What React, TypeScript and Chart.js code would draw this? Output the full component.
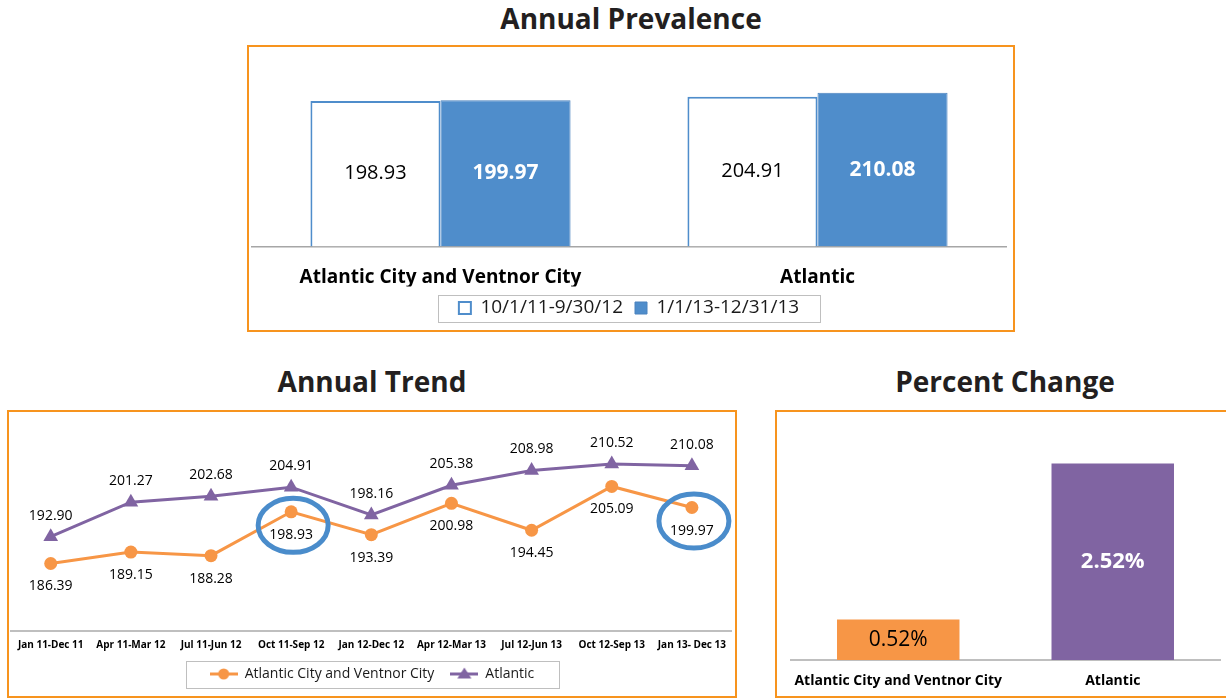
import React, { useEffect, useRef } from "react";
import { Chart, registerables } from "chart.js";

Chart.register(...registerables);

const FONT = "'Open Sans', 'DejaVu Sans', sans-serif";
Chart.defaults.font.family = FONT;
Chart.defaults.color = "#1a1a1a";

// ---------- data ----------
const prevalenceCategories = ["Atlantic City and Ventnor City", "Atlantic"];
const prevalencePeriods = ["10/1/11-9/30/12", "1/1/13-12/31/13"];
const prevalenceFirst = [198.93, 204.91];
const prevalenceSecond = [199.97, 210.08];

const trendPeriods = [
  "Jan 11-Dec 11",
  "Apr 11-Mar 12",
  "Jul 11-Jun 12",
  "Oct 11-Sep 12",
  "Jan 12-Dec 12",
  "Apr 12-Mar 13",
  "Jul 12-Jun 13",
  "Oct 12-Sep 13",
  "Jan 13- Dec 13",
];
const trendSeriesNames = ["Atlantic City and Ventnor City", "Atlantic"];
const trendCityValues = [186.39, 189.15, 188.28, 198.93, 193.39, 200.98, 194.45, 205.09, 199.97];
const trendCountyValues = [192.9, 201.27, 202.68, 204.91, 198.16, 205.38, 208.98, 210.52, 210.08];
const highlightedPeriods = ["Oct 11-Sep 12", "Jan 13- Dec 13"];

const changeCategories = ["Atlantic City and Ventnor City", "Atlantic"];
const changeValues = [0.52, 2.52];

// ---------- colours ----------
const BLUE = "#4F8DCB";
const BLUE_EDGE = "#4A82BE";
const ORANGE = "#F79646";
const PURPLE = "#8064A2";
const FRAME = "#F7941E";
const RING = "#4A8CCB";

type LabelSpec = {
  font: string;
  color: string;
  mode: "center" | "offset";
  offset?: number;
  fmt: (v: number) => string;
};

function valueLabels(specs: LabelSpec[]) {
  return {
    id: "valueLabels",
    afterDatasetsDraw(chart: any) {
      const ctx = chart.ctx;
      chart.data.datasets.forEach((ds: any, di: number) => {
        const spec = specs[di];
        if (!spec) return;
        const meta = chart.getDatasetMeta(di);
        meta.data.forEach((el: any, i: number) => {
          const v = ds.data[i] as number;
          const y = spec.mode === "center" ? (el.y + el.base) / 2 : el.y + (spec.offset || 0);
          ctx.save();
          ctx.font = spec.font;
          ctx.fillStyle = spec.color;
          ctx.textAlign = "center";
          ctx.textBaseline = "middle";
          ctx.fillText(spec.fmt(v), el.x, y);
          ctx.restore();
        });
      });
    },
  };
}

function legendFrame(padX: number, boxH: number) {
  return {
    id: "legendFrame",
    afterDraw(chart: any) {
      const lg = chart.legend;
      const boxes = lg && lg.legendHitBoxes;
      if (!boxes || !boxes.length) return;
      const left = Math.min(...boxes.map((b: any) => b.left)) - padX;
      const right = Math.max(...boxes.map((b: any) => b.left + b.width)) + padX;
      const cy = boxes[0].top + boxes[0].height / 2;
      const ctx = chart.ctx;
      ctx.save();
      ctx.strokeStyle = "#BFBFBF";
      ctx.lineWidth = 1;
      ctx.strokeRect(Math.round(left) + 0.5, Math.round(cy - boxH / 2) + 0.5, Math.round(right - left), boxH);
      ctx.restore();
    },
  };
}

const highlightRings = {
  id: "highlightRings",
  afterDatasetsDraw(chart: any) {
    const meta = chart.getDatasetMeta(0);
    const ctx = chart.ctx;
    highlightedPeriods.forEach((p) => {
      const i = trendPeriods.indexOf(p);
      const el = meta.data[i];
      if (!el) return;
      ctx.save();
      ctx.beginPath();
      ctx.ellipse(el.x + 2, el.y + 13.5, 35, 27, 0, 0, Math.PI * 2);
      ctx.lineWidth = 5;
      ctx.strokeStyle = RING;
      ctx.stroke();
      ctx.restore();
    });
  },
};

function makeIcon(color: string, shape: "circle" | "triangle") {
  const c = document.createElement("canvas");
  c.width = 28;
  c.height = 16;
  const g = c.getContext("2d")!;
  g.strokeStyle = color;
  g.lineWidth = 3;
  g.beginPath();
  g.moveTo(0, 8);
  g.lineTo(28, 8);
  g.stroke();
  g.fillStyle = color;
  g.beginPath();
  if (shape === "circle") {
    g.arc(14, 8, 5.5, 0, Math.PI * 2);
  } else {
    g.moveTo(14, 1.5);
    g.lineTo(21, 12.5);
    g.lineTo(7, 12.5);
    g.closePath();
  }
  g.fill();
  return c;
}

function prevalenceConfig(): any {
  return {
    type: "bar",
    data: {
      labels: prevalenceCategories,
      datasets: [
        {
          label: prevalencePeriods[0],
          data: prevalenceFirst,
          backgroundColor: "#FFFFFF",
          borderColor: BLUE,
          borderWidth: 2,
        },
        {
          label: prevalencePeriods[1],
          data: prevalenceSecond,
          backgroundColor: BLUE,
          borderColor: BLUE_EDGE,
          borderWidth: 1,
        },
      ],
    },
    options: {
      responsive: false,
      animation: false,
      events: [],
      layout: { padding: { top: 12, left: 2, right: 6, bottom: 1.5 } },
      datasets: { bar: { categoryPercentage: 0.69, barPercentage: 1 } },
      scales: {
        x: {
          grid: { display: false, drawTicks: false },
          border: { display: true, color: "#A6A6A6", width: 1.5 },
          ticks: { padding: 21, color: "#000", font: { size: 19, weight: "bold", family: FONT, lineHeight: 1.1 } },
          afterFit: (scale: any) => {
            scale.height = 40;
          },
        },
        y: { display: false, min: 0, max: 255 },
      },
      plugins: {
        tooltip: { enabled: false },
        legend: {
          position: "bottom",
          labels: {
            boxWidth: 12,
            boxHeight: 12,
            padding: 12,
            color: "#1a1a1a",
            font: { size: 19, family: FONT },
          },
        },
      },
    },
    plugins: [
      valueLabels([
        { font: `20px ${FONT}`, color: "#000", mode: "center", fmt: (v) => v.toFixed(2) },
        { font: `bold 21px ${FONT}`, color: "#FFFFFF", mode: "center", fmt: (v) => v.toFixed(2) },
      ]),
      legendFrame(21, 27),
    ],
  };
}

function trendConfig(): any {
  const icons = [makeIcon(ORANGE, "circle"), makeIcon(PURPLE, "triangle")];
  return {
    type: "line",
    data: {
      labels: trendPeriods,
      datasets: [
        {
          label: trendSeriesNames[0],
          data: trendCityValues,
          borderColor: ORANGE,
          backgroundColor: ORANGE,
          borderWidth: 3,
          pointStyle: "circle",
          pointRadius: 6.5,
          pointBorderWidth: 0,
          tension: 0,
        },
        {
          label: trendSeriesNames[1],
          data: trendCountyValues,
          borderColor: PURPLE,
          backgroundColor: PURPLE,
          borderWidth: 3,
          pointStyle: "triangle",
          pointRadius: 8.5,
          pointBorderWidth: 0,
          tension: 0,
        },
      ],
    },
    options: {
      responsive: false,
      animation: false,
      events: [],
      layout: { autoPadding: false, padding: { top: 12, left: 0, right: 0, bottom: 4 } },
      scales: {
        x: {
          offset: true,
          grid: { display: false, drawTicks: false },
          border: { display: true, color: "#BFBFBF", width: 2 },
          ticks: { padding: 8, color: "#000", maxRotation: 0, autoSkip: false, font: { size: 10, weight: "bold", family: FONT } },
          afterFit: (scale: any) => {
            scale.height = 20;
          },
        },
        y: { display: false, min: 170, max: 220 },
      },
      plugins: {
        tooltip: { enabled: false },
        legend: {
          position: "bottom",
          labels: {
            usePointStyle: true,
            pointStyleWidth: 28,
            boxHeight: 14,
            padding: 16,
            color: "#1a1a1a",
            font: { size: 14, family: FONT },
            generateLabels: (chart: any) => {
              const items = Chart.defaults.plugins.legend.labels.generateLabels(chart);
              items.forEach((it: any, i: number) => {
                it.pointStyle = icons[i];
              });
              return items;
            },
          },
        },
      },
    },
    plugins: [
      valueLabels([
        { font: `14px ${FONT}`, color: "#000", mode: "offset", offset: 23, fmt: (v) => v.toFixed(2) },
        { font: `14px ${FONT}`, color: "#000", mode: "offset", offset: -21, fmt: (v) => v.toFixed(2) },
      ]),
      highlightRings,
      legendFrame(24, 27),
    ],
  };
}

function changeConfig(): any {
  return {
    type: "bar",
    data: {
      labels: changeCategories,
      datasets: [
        {
          label: "Percent Change",
          data: changeValues,
          backgroundColor: [ORANGE, PURPLE],
          borderWidth: 0,
        },
      ],
    },
    options: {
      responsive: false,
      animation: false,
      events: [],
      layout: { padding: { top: 13, left: 13, right: 6, bottom: 6 } },
      datasets: { bar: { categoryPercentage: 0.571, barPercentage: 1 } },
      scales: {
        x: {
          grid: { display: false, drawTicks: false },
          border: { display: true, color: "#BFBFBF", width: 2 },
          ticks: { padding: 13, color: "#000", font: { size: 14, weight: "bold", family: FONT } },
          afterFit: (scale: any) => {
            scale.height = 29;
          },
        },
        y: { display: false, min: 0, max: 3 },
      },
      plugins: { tooltip: { enabled: false }, legend: { display: false } },
    },
    plugins: [
      {
        id: "pctLabels",
        afterDatasetsDraw(chart: any) {
          const ctx = chart.ctx;
          const meta = chart.getDatasetMeta(0);
          meta.data.forEach((el: any, i: number) => {
            const v = changeValues[i];
            const big = i === 1;
            ctx.save();
            ctx.font = big ? `bold 22px ${FONT}` : `21px ${FONT}`;
            ctx.fillStyle = big ? "#FFFFFF" : "#000";
            ctx.textAlign = "center";
            ctx.textBaseline = "middle";
            ctx.fillText(v.toFixed(2) + "%", el.x, (el.y + el.base) / 2);
            ctx.restore();
          });
        },
      },
    ],
  };
}

function ChartBox(props: { make: () => any; left: number; top: number; width: number; height: number }) {
  const ref = useRef<HTMLCanvasElement | null>(null);
  useEffect(() => {
    const chart = new Chart(ref.current!, props.make());
    return () => chart.destroy();
  }, []);
  return (
    <canvas
      ref={ref}
      width={props.width}
      height={props.height}
      style={{ position: "absolute", left: props.left, top: props.top, width: props.width, height: props.height, display: "block" }}
    />
  );
}

const titleStyle = (cx: number, cy: number): React.CSSProperties => ({
  position: "absolute",
  left: cx - 250,
  width: 500,
  top: cy - 20,
  height: 40,
  lineHeight: "40px",
  textAlign: "center",
  fontFamily: FONT,
  fontWeight: 700,
  fontSize: 28,
  color: "#231F20",
  whiteSpace: "nowrap",
});

const frameStyle = (left: number, top: number, width: number, height: number): React.CSSProperties => ({
  position: "absolute",
  left,
  top,
  width,
  height,
  boxSizing: "border-box",
  border: `2px solid ${FRAME}`,
});

export default function App() {
  return (
    <div style={{ position: "fixed", left: 0, top: 0, width: 1226, height: 698, overflow: "hidden", background: "#fff" }}>
      <div style={titleStyle(631, 18)}>Annual Prevalence</div>
      <div style={frameStyle(247, 45, 768, 287)} />
      <ChartBox make={prevalenceConfig} left={250} top={48} width={762} height={281} />

      <div style={titleStyle(372, 381)}>Annual Trend</div>
      <div style={frameStyle(7, 410, 730, 288)} />
      <ChartBox make={trendConfig} left={10} top={413} width={724} height={282} />

      <div style={titleStyle(1005, 381)}>Percent Change</div>
      <div style={frameStyle(775, 410, 470, 288)} />
      <ChartBox make={changeConfig} left={778} top={413} width={448} height={282} />
    </div>
  );
}
